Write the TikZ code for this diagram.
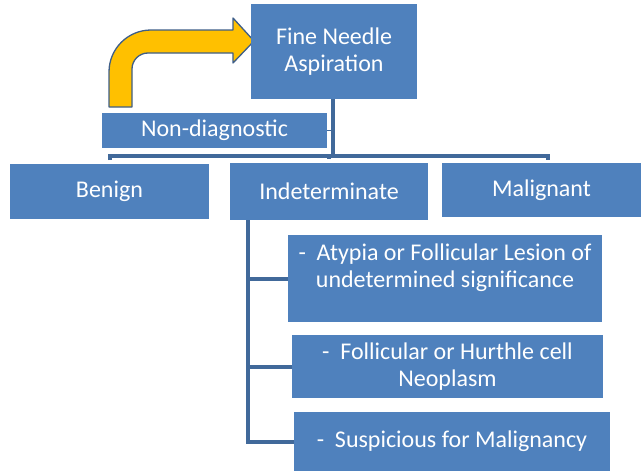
\documentclass[tikz,border=0pt]{standalone}
\usepackage{fontspec}
\setmainfont{Carlito}
\usepackage{tikz}

\definecolor{boxblue}{HTML}{4F81BD}
\definecolor{lineblue}{HTML}{41699A}
\definecolor{arrowgold}{HTML}{FFC000}
\definecolor{arrowedge}{HTML}{3E5E88}

\begin{document}
\begin{tikzpicture}[x=1pt,y=1pt,yscale=-1,xscale=1,
	blk/.style={fill=boxblue,draw=none,inner sep=0pt,outer sep=0pt,align=center,text=white,font=\fontsize{24}{27}\selectfont},
	txt/.style={inner sep=0pt,align=center,text=white,font=\fontsize{24}{27}\selectfont},
	conn/.style={draw=lineblue,line width=4pt}]
			\useasboundingbox (0,0) rectangle (641,471);
			
			% bent arrow back to the top
			\draw[fill=arrowgold,draw=arrowedge,line width=1.3pt,line join=round]
				(109,107) [rounded corners=42pt] -- (109,30) [sharp corners] -- (233,30) -- (233,18) -- (254,41)
				-- (233,63) -- (233,53) [rounded corners=16pt] -- (132,53) [sharp corners] -- (132,107) -- cycle;
			
			\node[blk,minimum width=166,minimum height=95] (fna) at (334,51.5) {Fine Needle\\Aspiration};
			\node[blk,minimum width=225,minimum height=35] (nond) at (214.5,130.5) {Non-diagnostic};
			\node[blk,minimum width=199,minimum height=55] (ben) at (109.5,191.5) {Benign};
			\node[blk,minimum width=198,minimum height=57] (ind) at (329,191.5) {Indeterminate};
			\node[blk,minimum width=199,minimum height=54] (mal) at (541.5,190) {Malignant};
			\node[blk,minimum width=314,minimum height=87] (atyp) at (445,278.5) {};
			\node[txt] (atyptxt) at (445,267.5) {-~ Atypia or Follicular Lesion of\\undetermined significance};
			\node[blk,minimum width=311,minimum height=63] (foll) at (447.5,366.5) {-~ Follicular or Hurthle cell\\Neoplasm};
			\node[blk,minimum width=316,minimum height=59] (susp) at (452,441.5) {-~ Suspicious for Malignancy};
			
			\coordinate (bus) at (333,156);
			\coordinate (busL) at (109.5,156);
			\coordinate (busR) at (548,156);
			\coordinate (trunk) at (248,220);
			
			\draw[conn] (333,99) -- (bus);
			\draw[conn,line width=1.5pt] (nond.east) -- ++(6,0);
			\draw[conn] (busL) ++(0,4) -- (busL) -- (busR) -- ++(0,4);
			\draw[conn] (bus -| ind.north) -- ++(0,3);
			\draw[conn] (trunk) |- (atyp.west);
			\draw[conn] (trunk) |- (foll.west);
			\draw[conn] (trunk) |- (susp.west);
			\end{tikzpicture}
\end{document}
